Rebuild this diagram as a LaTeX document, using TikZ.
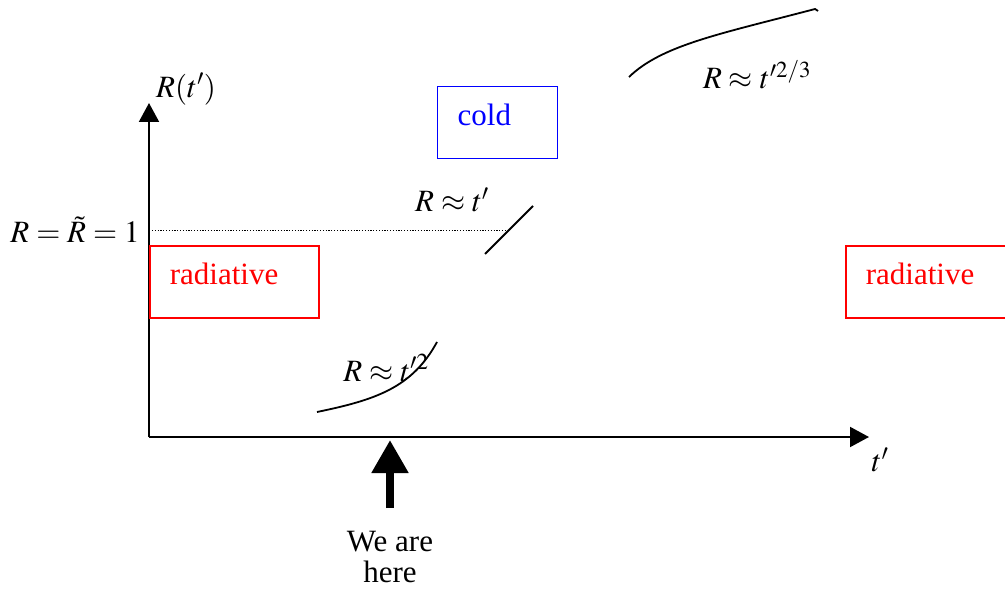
\documentclass[tikz,border=0pt]{standalone}
\usepackage{mathptmx}
\usepackage{fontspec}
\setmainfont{Liberation Serif}
\usepackage{tikz}
\usetikzlibrary{positioning,arrows.meta,calc}
\definecolor{cAxis}{HTML}{000000}
\definecolor{cHot}{HTML}{FF0000}
\definecolor{cCold}{HTML}{0000FF}
\tikzset{
  fig/txt/.style     ={font=\fontsize{31}{34}\selectfont, inner sep=0pt},
  fig/region/.style  ={fig/txt, draw, line width=1.7pt, inner xsep=20pt,
                       minimum height=72pt, text depth=16pt, align=left},
  fig/hotbox/.style  ={fig/region, draw=cHot, text=cHot, text width=129pt},
  fig/coldbox/.style ={fig/region, draw=cCold, text=cCold, text width=80pt,
                       line width=1.4pt},
  fig/axis/.style    ={-{Triangle[length=19pt, width=20pt]}, line width=2pt, cAxis},
  fig/trend/.style   ={line width=1.8pt, cAxis},
  fig/level/.style   ={line width=0.9pt, dash pattern=on 1.2pt off 1.6pt, cAxis},
  fig/here/.style    ={-{Triangle[length=33pt, width=35pt]}, line width=8pt, cAxis}
}

\begin{document}
\begin{tikzpicture}[x=1pt, y=-1pt]
    \useasboundingbox (0,0) rectangle (1005,591);
    % axes
    \coordinate (O)    at (149,437);
    \coordinate (ytip) at (149,103);
    \coordinate (xtip) at (869,437);
    \draw[fig/axis] (O) -- (ytip);
    \draw[fig/axis] (O) -- (xtip);
    \node[fig/txt] (lblR)  at (186,89)  {$R(t')$};
    \node[fig/txt] (lblt)  at (880,460) {$t'$};
    \node[fig/txt] (lblOne) at (75,230) {$R=\tilde{R}=1$};

    % regimes
    \node[fig/hotbox,  anchor=north west] (radL) at (149,245) {radiative};
    \node[fig/hotbox,  anchor=north west] (radR) at (845,245) {radiative};
    \node[fig/coldbox, anchor=north west] (cold) at (437,86)  {cold};

    % growth laws
    \coordinate (linA) at (485,254);
    \coordinate (linB) at (533,206);
    \coordinate (lvl)  at (510,230);
    \draw[fig/level] (152,230) -- (lvl);
    \draw[fig/trend] (linA) -- (linB);
    \node[fig/txt] (lawLin) at (452,200) {$R\approx t'$};

    \draw[fig/trend] (317,412) .. controls (375,400) and (412,388) .. (437,342);
    \node[fig/txt] (lawSq) at (386,368) {$R\approx t'^2$};

    \draw[fig/trend] (629,77) .. controls (662,45) and (720,34) .. (815,9) -- (818,11);
    \node[fig/txt] (lawTh) at (757,75) {$R\approx t'^{2/3}$};

    % present epoch
    \coordinate (hereTail) at (390,508);
    \coordinate (hereTip)  at (390,440);
    \draw[fig/here] (hereTail) -- (hereTip);
    \node[fig/txt, align=center] (lblHere) at (390,557) {We are\\[-3pt]here};
  \end{tikzpicture}
\end{document}
